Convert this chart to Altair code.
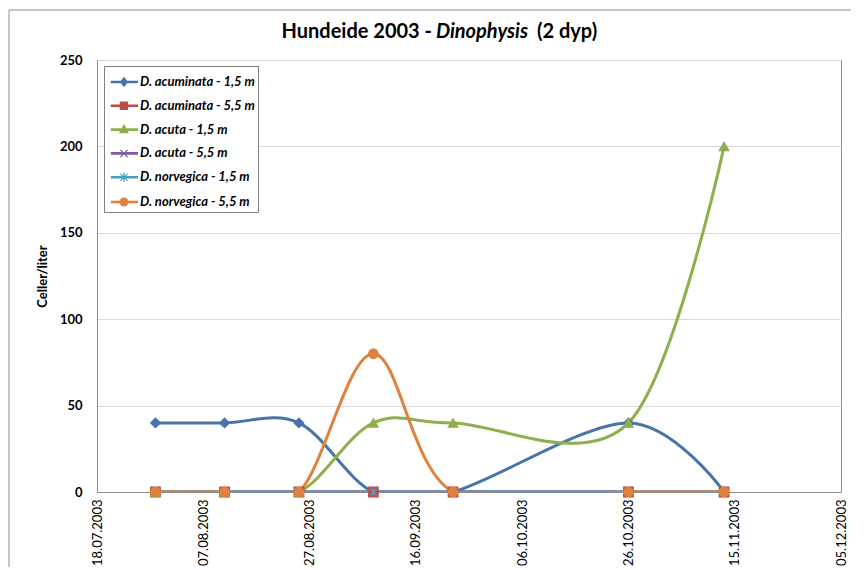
import altair as alt
import pandas as pd

# ---------------- data ----------------
sample_dates = ["2003-07-29", "2003-08-11", "2003-08-25", "2003-09-08",
                "2003-09-23", "2003-10-26", "2003-11-13"]
series_names = ["D. acuminata - 1,5 m", "D. acuminata - 5,5 m",
                "D. acuta - 1,5 m", "D. acuta - 5,5 m",
                "D. norvegica - 1,5 m", "D. norvegica - 5,5 m"]
acuminata_15 = [40, 40, 40, 0, 0, 40, 0]
acuminata_55 = [0, 0, 0, 0, 0, 0, 0]
acuta_15 = [0, 0, 0, 40, 40, 40, 200]
acuta_55 = [0, 0, 0, 0, 0, 0, 0]
norvegica_15 = [0, 0, 0, 0, 0, 0, 0]
norvegica_55 = [0, 0, 0, 80, 0, 0, 0]
y_ticks = [0, 50, 100, 150, 200, 250]
x_tick_dates = [(2003, 7, 18), (2003, 8, 7), (2003, 8, 27), (2003, 9, 16),
                (2003, 10, 6), (2003, 10, 26), (2003, 11, 15), (2003, 12, 5)]
title_left = "Hundeide 2003 -"
title_italic = "Dinophysis"
title_right = "(2 dyp)"
y_title = "Celler/liter"

# ---------------- styles ----------------
colors = ["#4674AA", "#BE4B48", "#8DAF4E", "#7D5FA0", "#4AA0BC", "#E0823D"]
X_PATH = "M-0.7,-0.7L0.7,0.7M-0.7,0.7L0.7,-0.7"
AST_PATH = "M-0.7,-0.7L0.7,0.7M-0.7,0.7L0.7,-0.7M0,-1L0,1"
point_shapes = ["diamond", "square", "triangle-up", X_PATH, AST_PATH, "circle"]

# legend symbols: line segment + small marker (unit box = 24px)
LINE = "M-0.72,-0.06H1.45V0.06H-0.72Z"
cx = 0.33
leg_shapes = [
    LINE + f"M{cx},-0.36L{cx+0.27},0L{cx},0.36L{cx-0.27},0Z",
    LINE + f"M{cx-0.3},-0.3H{cx+0.3}V0.3H{cx-0.3}Z",
    LINE + f"M{cx},-0.38L{cx+0.34},0.26H{cx-0.34}Z",
    LINE + f"M{cx-0.3},-0.3L{cx+0.3},0.3M{cx-0.3},0.3L{cx+0.3},-0.3",
    LINE + f"M{cx-0.3},-0.3L{cx+0.3},0.3M{cx-0.3},0.3L{cx+0.3},-0.3M{cx},-0.4V0.4",
    LINE + f"M{cx+0.33},0A0.33,0.33 0 1 1 {cx-0.33},0A0.33,0.33 0 1 1 {cx+0.33},0Z",
]

FONT = "Lato"

values_by_series = [acuminata_15, acuminata_55, acuta_15, acuta_55,
                    norvegica_15, norvegica_55]
rows = []
for name, vals in zip(series_names, values_by_series):
    for d, v in zip(sample_dates, vals):
        rows.append({"date": d, "value": v, "series": name})
df = pd.DataFrame(rows)


def dt(t):
    return alt.DateTime(year=t[0], month=t[1], date=t[2], utc=True)


x_enc = alt.X(
    "date:T",
    scale=alt.Scale(type="utc", domain=[dt(x_tick_dates[0]), dt(x_tick_dates[-1])]),
    axis=alt.Axis(
        values=[dt(t) for t in x_tick_dates], format="%d.%m.%Y", labelAngle=-90,
        labelAlign="right", labelBaseline="middle", labelFont=FONT,
        labelFontSize=13, labelColor="#000000", labelPadding=7, ticks=False,
        grid=False, domainColor="#8c8c8c", title=None,
    ),
)
y_enc = alt.Y(
    "value:Q",
    scale=alt.Scale(domain=[0, 250], nice=False),
    axis=alt.Axis(
        values=y_ticks, title=y_title, titleFont=FONT, titleFontSize=13,
        titleFontWeight="bold", titleColor="#000000", titleX=-55, titleY=216,
        titleAngle=-90, titleAlign="center", titleBaseline="middle",
        labelFont=FONT, labelFontSize=13, labelFontWeight="bold",
        labelColor="#000000", labelPadding=15, ticks=False, grid=True,
        gridColor="#d9d9d9", domainColor="#8c8c8c",
    ),
)

color_scale = alt.Scale(domain=series_names, range=colors)

base = alt.Chart(df)

lines = base.mark_line(interpolate="cardinal", strokeWidth=3, clip=True).encode(
    x=x_enc, y=y_enc,
    color=alt.Color("series:N", scale=color_scale, legend=None),
)

points = base.mark_point(filled=True, opacity=1, strokeWidth=1.3, size=90).encode(
    x=x_enc, y=y_enc,
    fill=alt.Fill("series:N", scale=color_scale, legend=None),
    stroke=alt.Stroke("series:N", scale=color_scale, legend=None),
    shape=alt.Shape("series:N", scale=alt.Scale(domain=series_names, range=point_shapes),
                    legend=None),
)

legend_cfg = alt.Legend(
    title=None, orient="none", legendX=7, legendY=6, padding=3,
    symbolSize=576, symbolStrokeWidth=1.2, symbolOpacity=1,
    labelFont=FONT, labelFontSize=13, labelFontWeight="bold",
    labelFontStyle="italic", labelColor="#000000", labelOffset=7,
    rowPadding=3.8, strokeColor="#7f7f7f", fillColor="#ffffff",
)
legend_layer = base.mark_point(filled=True, opacity=0).encode(
    x=x_enc, y=y_enc,
    fill=alt.Fill("series:N", scale=color_scale, legend=legend_cfg),
    stroke=alt.Stroke("series:N", scale=color_scale, legend=legend_cfg),
    shape=alt.Shape("series:N", scale=alt.Scale(domain=series_names, range=leg_shapes),
                    legend=legend_cfg),
)

one = alt.Chart(pd.DataFrame({"k": [0]}))
frame = one.mark_rect(fill=None, stroke="#8c8c8c", strokeWidth=1).encode(
    x=alt.value(-88), x2=alt.value(761), y=alt.value(-50), y2=alt.value(540)
)
t1 = one.mark_text(align="right", baseline="middle", font=FONT, fontSize=20,
                   fontWeight="bold", color="#000000").encode(
    x=alt.value(335), y=alt.value(-28), text=alt.value(title_left))
t2 = one.mark_text(align="center", baseline="middle", font=FONT, fontSize=20,
                   fontWeight="bold", fontStyle="italic", color="#000000").encode(
    x=alt.value(385), y=alt.value(-28), text=alt.value(title_italic))
t3 = one.mark_text(align="left", baseline="middle", font=FONT, fontSize=20,
                   fontWeight="bold", color="#000000").encode(
    x=alt.value(440), y=alt.value(-28), text=alt.value(title_right))

chart = alt.layer(frame, lines, points, legend_layer, t1, t2, t3).resolve_scale(
    shape="independent", fill="independent", stroke="independent", color="independent"
).resolve_legend(
    shape="independent", fill="independent", stroke="independent", color="independent"
).properties(
    width=744, height=432,
    autosize=alt.AutoSizeParams(type="none"),
    padding={"left": 89, "top": 52, "right": 10, "bottom": 75},
).configure_view(stroke="#8c8c8c", strokeWidth=1)

chart.save("out.html", embed_options={"renderer": "svg", "actions": False})
